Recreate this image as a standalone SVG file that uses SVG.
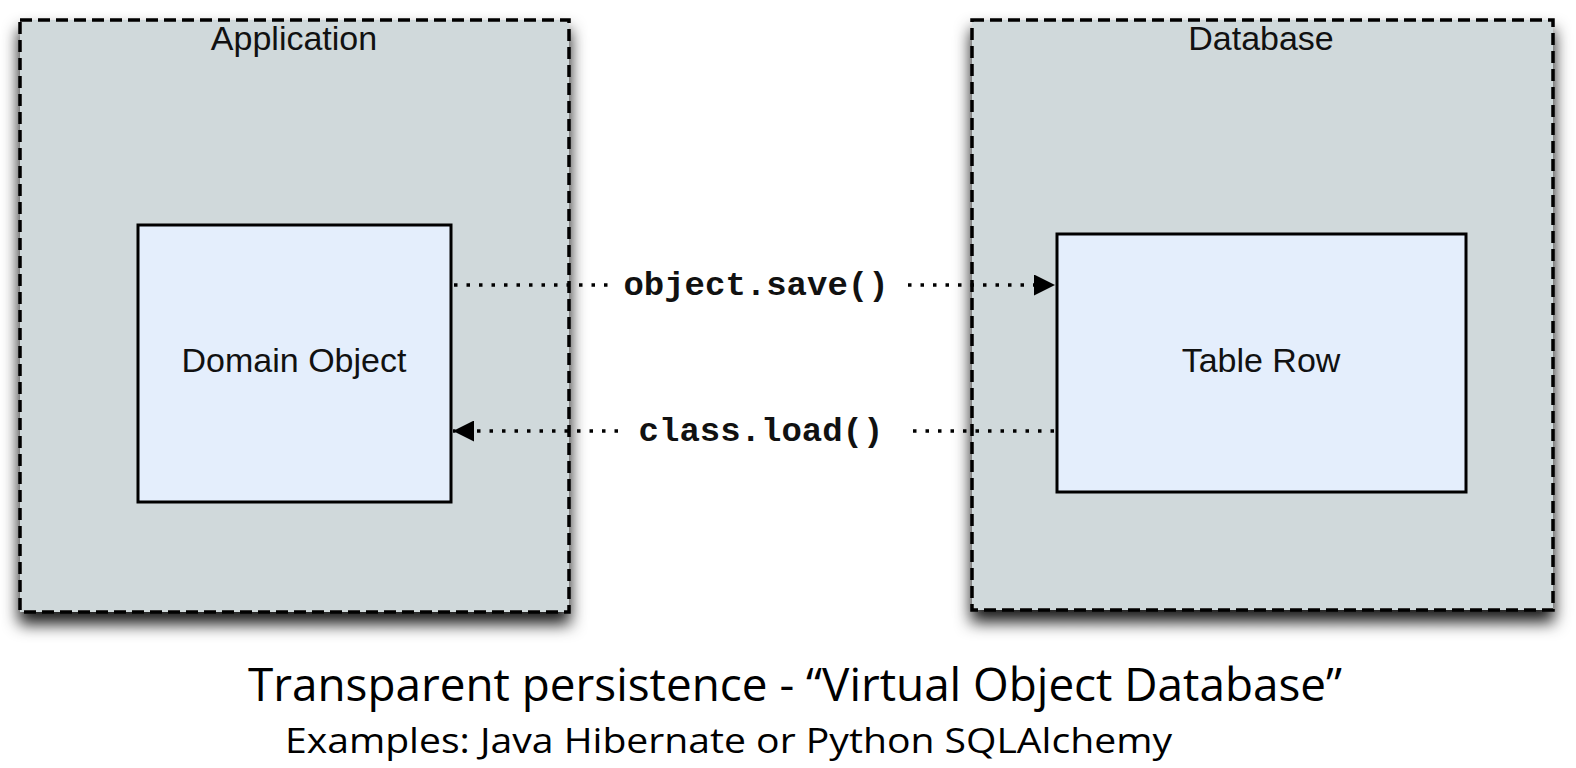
<svg xmlns="http://www.w3.org/2000/svg" width="1576" height="768" viewBox="0 0 1576 768">
  <style>
    .container { fill: #d0d9db; stroke: #000; stroke-width: 3.5; stroke-dasharray: 12 6; }
    .item { fill: #e4eefc; stroke: #000; stroke-width: 3; }
    .lbl { font-family: "Liberation Sans", Arial, sans-serif; font-size: 34px; fill: #111; text-anchor: middle; }
    .code { font-family: "Liberation Mono", "Courier New", monospace; font-size: 34px; font-weight: bold; fill: #111; text-anchor: middle; }
    .conn { fill: none; stroke: #000; stroke-width: 3.5; stroke-dasharray: 3.5 9; }
    .cap { font-family: "Open Sans", "Liberation Sans", sans-serif; fill: #000; }
  </style>
  <defs>
    <filter id="shadow" x="-10%" y="-10%" width="120%" height="125%">
      <feDropShadow dx="0" dy="11" stdDeviation="8" flood-color="#000" flood-opacity="0.9"/>
    </filter>
    <marker id="arrow" viewBox="0 0 10 10" refX="10" refY="5" markerWidth="27" markerHeight="21" markerUnits="userSpaceOnUse" orient="auto">
      <path d="M0,0 L10,5 L0,10 Z" fill="#000"/>
    </marker>
  </defs>
  <rect width="1576" height="768" fill="#fff"/>

  <g id="application">
    <rect class="container" x="20" y="20" width="549" height="592" filter="url(#shadow)"/>
    <text class="lbl" x="294" y="50">Application</text>
  </g>
  <g id="database">
    <rect class="container" x="972" y="20" width="581" height="590" filter="url(#shadow)"/>
    <text class="lbl" x="1261" y="50">Database</text>
  </g>
  <g id="domain-object">
    <rect class="item" x="138" y="225" width="313" height="277"/>
    <text class="lbl" x="294" y="372">Domain Object</text>
  </g>
  <g id="table-row">
    <rect class="item" x="1057" y="234" width="409" height="258"/>
    <text class="lbl" x="1261" y="372">Table Row</text>
  </g>

  <g id="connectors">
    <path class="conn" d="M454,285 L616,285"/>
    <path class="conn" d="M908,285 L1055,285" marker-end="url(#arrow)"/>
    <text class="code" x="756" y="295">object.save()</text>
    <path class="conn" d="M1054,431 L910,431"/>
    <path class="conn" d="M618,431 L453,431" marker-end="url(#arrow)"/>
    <text class="code" x="761" y="441">class.load()</text>
  </g>

  <text class="cap" x="248" y="701" font-size="46" textLength="1094" lengthAdjust="spacingAndGlyphs">Transparent persistence - “Virtual Object Database”</text>
  <text class="cap" x="285" y="753" font-size="35" textLength="887" lengthAdjust="spacingAndGlyphs">Examples: Java Hibernate or Python SQLAlchemy</text>
</svg>
